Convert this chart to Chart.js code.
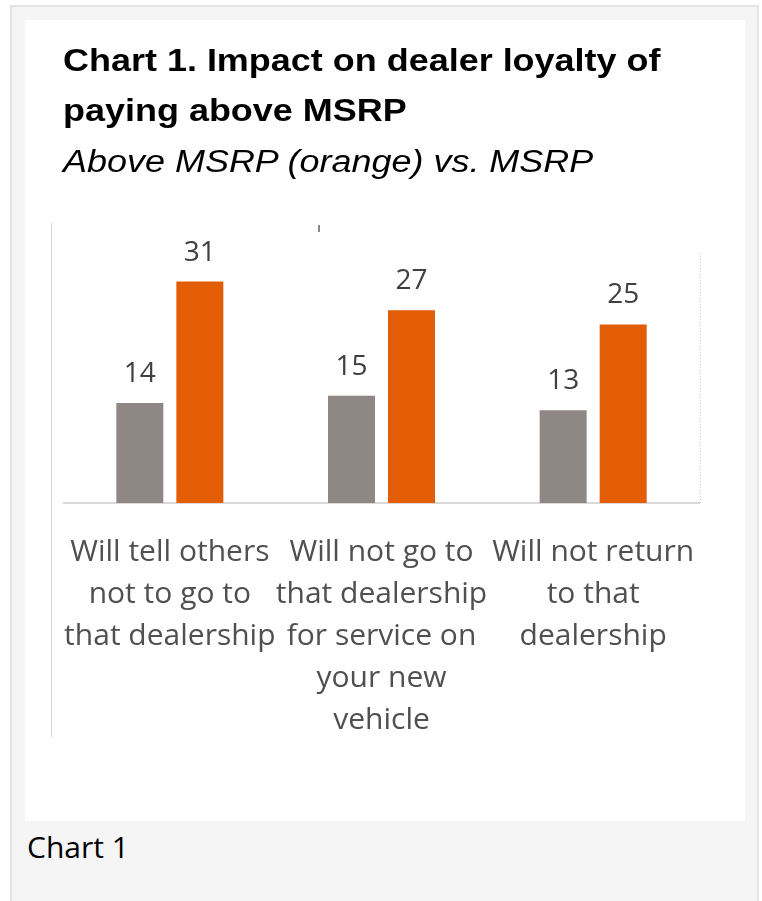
<!DOCTYPE html>
<html>
<head>
<meta charset="utf-8">
<script src="https://cdn.jsdelivr.net/npm/chart.js@4.4.0/dist/chart.umd.min.js"></script>
<style>
  body { margin: 0; width: 762px; height: 901px; overflow: hidden; position: relative; background: #fff; }
  .frame { position: absolute; left: 10px; top: 5px; width: 745px; height: 900px; background: #f5f5f5; border: 2px solid #e3e3e3; }
  .panel { position: absolute; left: 25px; top: 20px; width: 720px; height: 801px; background: #fff; }
  #chart { position: absolute; left: 25px; top: 20px; }
  .title { position: absolute; left: 63px; top: 36px; font: bold 31px "Liberation Sans", Arial, sans-serif; line-height: 50px; color: #000; white-space: nowrap; transform: scaleX(1.16); transform-origin: 0 0; }
  .subtitle { position: absolute; left: 63px; top: 137px; font: italic 31px "Liberation Sans", Arial, sans-serif; line-height: 50px; color: #000; white-space: nowrap; transform: scaleX(1.16); transform-origin: 0 0; }
  .caption { position: absolute; left: 27px; top: 827px; font: 30px "Open Sans", sans-serif; line-height: 40px; color: #000; }
  /* leftovers of the pasted chart picture */
  .edge { position: absolute; left: 51px; top: 223px; width: 1px; height: 514px; background: #d6d6d6; }
  .tick { position: absolute; left: 318px; top: 225px; width: 2px; height: 7px; background: #888; }
</style>
</head>
<body>
<div class="frame"></div>
<div class="panel"></div>
<canvas id="chart" width="720" height="801"></canvas>
<div class="title">Chart 1. Impact on dealer loyalty of<br>paying above MSRP</div>
<div class="subtitle">Above MSRP (orange) vs. MSRP</div>
<div class="edge"></div>
<div class="tick"></div>
<div class="caption">Chart 1</div>

<script>
// categories, one array of lines per label
const categories = [
  ["Will tell others", "not to go to", "that dealership"],
  ["Will not go to", "that dealership", "for service on", "your new", "vehicle"],
  ["Will not return", "to that", "dealership"],
];
const msrpValues = [14, 15, 13];
const aboveMsrpValues = [31, 27, 25];
const yMax = 35;

// draws the numbers on top of each bar
const valueLabels = {
  id: "valueLabels",
  afterDatasetsDraw(chart) {
    const ctx = chart.ctx;
    ctx.save();
    ctx.font = "28px 'Open Sans'";
    ctx.fillStyle = "#404040";
    ctx.textAlign = "center";
    ctx.textBaseline = "alphabetic";
    chart.data.datasets.forEach((ds, i) => {
      chart.getDatasetMeta(i).data.forEach((bar, j) => {
        ctx.fillText(ds.data[j], bar.x, bar.y - 21);
      });
    });
    ctx.restore();
  },
};

// faint dotted line on the right side of the plot
const rightEdge = {
  id: "rightEdge",
  beforeDatasetsDraw(chart) {
    const { ctx, chartArea } = chart;
    ctx.save();
    ctx.strokeStyle = "#cfcfcf";
    ctx.lineWidth = 1;
    ctx.setLineDash([1, 2]);
    ctx.beginPath();
    ctx.moveTo(chartArea.right + 1.5, chartArea.top);
    ctx.lineTo(chartArea.right + 1.5, chartArea.bottom);
    ctx.stroke();
    ctx.restore();
  },
};

new Chart(document.getElementById("chart"), {
  type: "bar",
  data: {
    labels: categories,
    datasets: [
      {
        label: "MSRP",
        data: msrpValues,
        backgroundColor: "#8e8783",
      },
      {
        label: "Above MSRP",
        data: aboveMsrpValues,
        backgroundColor: "#e35c06",
      },
    ],
  },
  options: {
    responsive: false,
    animation: false,
    categoryPercentage: 0.567,
    barPercentage: 0.783,
    layout: { padding: { left: 39, right: 46, top: 233, bottom: 0 } },
    plugins: {
      legend: { display: false },
      tooltip: { enabled: false },
    },
    scales: {
      x: {
        grid: { display: false },
        border: { display: true, color: "#d9d9d9", width: 2 },
        ticks: {
          color: "#505050",
          font: { family: "Open Sans", size: 30, lineHeight: 1.4 },
          padding: 20,
          maxRotation: 0,
          autoSkip: false,
        },
        afterFit: (scale) => {
          scale.height = 318; // keep plot bottom where the picture has it
        },
      },
      y: {
        display: false,
        min: 0,
        max: yMax,
      },
    },
  },
  plugins: [valueLabels, rightEdge],
});
</script>
</body>
</html>
